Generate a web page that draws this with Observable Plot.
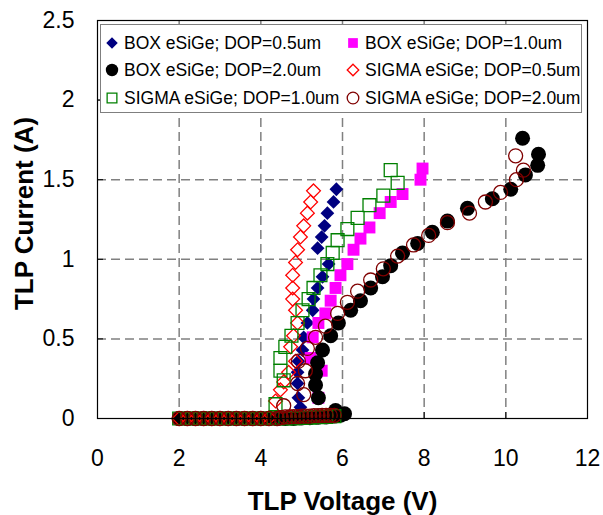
<!DOCTYPE html>
<html>
<head>
<meta charset="utf-8">
<script src="https://cdn.jsdelivr.net/npm/d3@7"></script>
<script src="https://cdn.jsdelivr.net/npm/@observablehq/plot@0.6"></script>
<style>
  body { margin: 0; background: #fff; font-family: "Liberation Sans", Arial, sans-serif; }
  #wrap { position: relative; width: 603px; height: 515px; }
  #legend { position: absolute; left: 100px; top: 24px; width: 480px; height: 87px;
            border: 1.5px solid #7f7f7f; background: #fff; }
  .item { position: absolute; font-size: 17.5px; line-height: 20px; white-space: nowrap; color: #000; }
  .item svg { position: absolute; overflow: visible; }
</style>
</head>
<body>
<div id="wrap"><div id="legend"></div></div>
<script>
// ---- data (TLP Voltage V, TLP Current A) ----
const seriesNames = [
  "BOX eSiGe; DOP=0.5um", "BOX eSiGe; DOP=1.0um", "BOX eSiGe; DOP=2.0um",
  "SIGMA eSiGe; DOP=0.5um", "SIGMA eSiGe; DOP=1.0um", "SIGMA eSiGe; DOP=2.0um"
];
const xTicks = [0, 2, 4, 6, 8, 10, 12];
const yTicks = [0, 0.5, 1, 1.5, 2, 2.5];

const box05 = [[2.0,0],[2.2,0],[2.4,0],[2.6,0],[2.8,0],[3.0,0],[3.2,0],[3.4,0],[3.6,0],[3.8,0],[4.0,0],[4.2,0],[4.4,0],[4.6,0],[4.8,0],[5.0,0.003],[5.2,0.005],[5.4,0.008],[5.6,0.01],[5.8,0.015],[5.95,0.02],
  [4.97,0.07],[4.92,0.13],[4.90,0.22],[4.90,0.29],[4.92,0.36],[5.02,0.43],[5.05,0.51],[5.14,0.60],[5.27,0.68],[5.29,0.75],[5.39,0.82],[5.51,0.89],[5.66,0.97],[5.39,1.07],[5.49,1.14],[5.56,1.21],[5.63,1.29],[5.78,1.36],[5.85,1.44]];
const box10 = [[2.0,0],[2.2,0],[2.4,0],[2.6,0],[2.8,0],[3.0,0],[3.2,0],[3.4,0],[3.6,0],[3.8,0],[4.0,0],[4.2,0],[4.4,0],[4.6,0],[4.8,0],[5.0,0.003],[5.2,0.005],[5.4,0.008],[5.6,0.01],[5.8,0.015],
  [5.41,0.13],[5.49,0.30],[5.22,0.38],[5.27,0.51],[5.41,0.60],[5.58,0.66],[5.71,0.74],[5.83,0.82],[5.95,0.90],[6.12,0.97],[6.27,1.06],[6.44,1.13],[6.66,1.20],[6.91,1.29],[7.18,1.36],[7.47,1.41],[7.91,1.50],[7.96,1.57]];
const box20 = [[2.0,0],[2.2,0],[2.4,0],[2.6,0],[2.8,0],[3.0,0],[3.2,0],[3.4,0],[3.6,0],[3.8,0],[4.0,0],[4.2,0],[4.4,0],[4.6,0],[4.8,0],[5.0,0.003],[5.2,0.005],[5.4,0.008],[5.6,0.01],[5.8,0.015],[5.95,0.02],[6.05,0.03],
  [5.83,0.05],[5.41,0.13],[5.34,0.21],[5.34,0.28],[5.39,0.35],[5.51,0.43],[5.71,0.52],[5.90,0.60],[6.20,0.68],[6.44,0.74],[6.69,0.82],[6.98,0.89],[7.18,0.96],[7.47,1.04],[7.84,1.10],[8.20,1.17],[8.57,1.24],[9.06,1.32],[9.67,1.38],[10.12,1.44],[10.48,1.53],[10.78,1.59],[10.80,1.66],[10.41,1.76]];
const sigma05 = [[2.0,0],[2.2,0],[2.4,0],[2.6,0],[2.8,0],[3.0,0],[3.2,0],[3.4,0],[3.6,0],[3.8,0],[4.0,0],[4.2,0.005],
  [4.36,0.11],[4.48,0.18],[4.56,0.23],[4.68,0.29],[4.85,0.36],[4.73,0.45],[4.80,0.52],[4.90,0.60],[4.85,0.68],[4.78,0.75],[4.78,0.82],[4.78,0.90],[4.85,0.98],[4.90,1.06],[4.97,1.14],[5.05,1.21],[5.14,1.29],[5.22,1.36],[5.29,1.43]];
const sigma10 = [[2.0,0],[2.2,0],[2.4,0],[2.6,0],[2.8,0],[3.0,0],[3.2,0],[3.4,0],[3.6,0],[3.8,0],[4.0,0],[4.2,0],[4.4,0],[4.6,0],[4.8,0],[5.0,0.003],[5.2,0.005],[5.4,0.008],[5.6,0.01],[5.8,0.015],
  [4.36,0.09],[4.56,0.24],[4.48,0.30],[4.48,0.38],[4.60,0.45],[4.75,0.52],[4.90,0.60],[5.02,0.68],[5.17,0.75],[5.29,0.82],[5.46,0.90],[5.63,0.97],[5.76,1.04],[5.88,1.12],[6.12,1.19],[6.37,1.26],[6.66,1.34],[7.00,1.40],[7.35,1.48],[7.18,1.56]];
const sigma20 = [[2.0,0],[2.2,0],[2.4,0],[2.6,0],[2.8,0],[3.0,0],[3.2,0],[3.4,0],[3.6,0],[3.8,0],[4.0,0],[4.2,0],[4.4,0],
  [4.5,0.005],[4.6,0.01],[4.7,0.01],[4.8,0.012],[4.9,0.012],[5.0,0.015],[5.1,0.015],[5.2,0.015],[5.3,0.018],[5.4,0.018],[5.5,0.02],[5.6,0.02],[5.7,0.02],[5.8,0.02],
  [4.56,0.08],[5.05,0.15],[4.90,0.22],[5.09,0.30],[4.92,0.36],[5.14,0.44],[5.34,0.51],[5.58,0.58],[5.88,0.66],[6.12,0.73],[6.37,0.80],[6.69,0.87],[7.00,0.94],[7.35,1.02],[7.74,1.09],[8.11,1.15],[8.57,1.23],[9.11,1.29],[9.50,1.36],[9.87,1.42],[10.26,1.50],[10.43,1.56],[10.24,1.65]];

// ---- styles per series ----
const styles = [
  {data: box05,   symbol: "diamond2", r: 6.2, fill: "#000080", stroke: "none"},
  {data: box10,   symbol: "square2",  r: 7.6, fill: "#ff00ff", stroke: "none"},
  {data: box20,   symbol: "circle",   r: 7.5, fill: "#000000", stroke: "none"},
  {data: sigma05, symbol: "diamond2", r: 6.2, fill: "none", stroke: "#ff0000"},
  {data: sigma10, symbol: "square2",  r: 8.2, fill: "none", stroke: "#008000"},
  {data: sigma20, symbol: "circle",   r: 7.0, fill: "none", stroke: "#800000"}
];

const dotMarks = styles.map(s => Plot.dot(s.data, {
  x: d => d[0], y: d => d[1], symbol: s.symbol, r: s.r,
  fill: s.fill, stroke: s.stroke, strokeWidth: 1.3
}));

const fmt = d => String(d);

const chart = Plot.plot({
  width: 603, height: 515,
  marginLeft: 97, marginRight: 16, marginTop: 20, marginBottom: 97,
  style: {fontFamily: "'Liberation Sans', Arial, sans-serif", color: "#000", background: "#fff"},
  x: {domain: [0, 12]},
  y: {domain: [0, 2.5]},
  marks: [
    Plot.gridX(xTicks.slice(1, -1), {stroke: "#808080", strokeOpacity: 1, strokeWidth: 1.5, strokeDasharray: "9,5"}),
    Plot.gridY(yTicks.slice(1, -1), {stroke: "#808080", strokeOpacity: 1, strokeWidth: 1.5, strokeDasharray: "9,5"}),
    Plot.axisX(xTicks, {tickSize: 0, tickPadding: 31, fontSize: 23, tickFormat: fmt, label: null}),
    Plot.axisY(yTicks, {tickSize: 0, tickPadding: 23, fontSize: 23, tickFormat: fmt, label: null}),
    Plot.axisX(xTicks, {tickSize: -6, tickFormat: () => "", label: null}),
    Plot.axisY(yTicks, {tickSize: -6, tickFormat: () => "", label: null}),
    ...dotMarks,
    Plot.frame({stroke: "#000", strokeWidth: 1.2}),
    Plot.text(["TLP Voltage (V)"], {frameAnchor: "bottom", dy: 83, textAnchor: "middle", lineAnchor: "middle", fontSize: 26, fontWeight: "bold"}),
    Plot.text(["TLP Current (A)"], {frameAnchor: "left", dx: -73, dy: -6, rotate: -90, textAnchor: "middle", lineAnchor: "middle", fontSize: 26, fontWeight: "bold"})
  ]
});
document.getElementById("wrap").prepend(chart);

// ---- legend (inside plot area, HTML overlay) ----
const legend = document.getElementById("legend");
const legendPos = [[23, 8], [264, 8], [23, 35], [264, 35], [23, 63], [264, 63]];
const legendR = [5.2, 6.2, 6.2, 5.2, 6.2, 5.8];
seriesNames.forEach((name, i) => {
  const s = styles[i];
  const div = document.createElement("div");
  div.className = "item";
  div.style.left = legendPos[i][0] + "px";
  div.style.top = legendPos[i][1] + "px";
  const sym = {diamond2: d3.symbolDiamond2, square2: d3.symbolSquare2, circle: d3.symbolCircle}[s.symbol];
  const path = d3.symbol(sym, Math.PI * legendR[i] * legendR[i])();
  div.innerHTML = `<svg width="20" height="20" viewBox="-10 -10 20 20" style="left:-22px;top:0"><path d="${path}" fill="${s.fill}" stroke="${s.stroke}" stroke-width="1.3"/></svg><span></span>`;
  div.querySelector("span").textContent = name;
  legend.appendChild(div);
});
</script>
</body>
</html>
